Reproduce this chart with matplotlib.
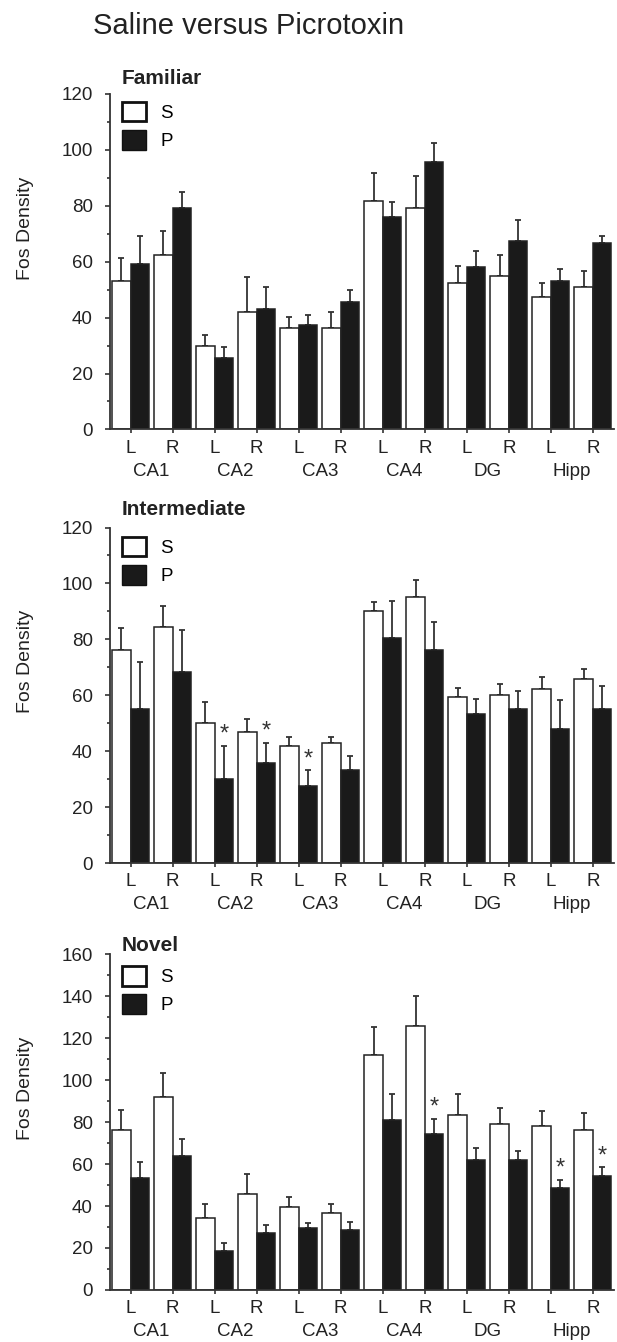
import matplotlib.pyplot as plt
import numpy as np
from matplotlib.patches import Patch

plt.rcParams['font.family'] = ['Liberation Sans', 'DejaVu Sans']

regions = ['CA1', 'CA2', 'CA3', 'CA4', 'DG', 'Hipp']
sides = ['L', 'R'] * 6

# Familiar
fam_s = [53.2, 62.5, 30.0, 41.9, 36.2, 36.2, 81.8, 79.2, 52.4, 55.0, 47.5, 51.1]
fam_s_err = [8.0, 8.6, 3.8, 12.5, 3.9, 5.7, 9.9, 11.3, 6.2, 7.4, 4.9, 5.7]
fam_p = [59.2, 79.2, 25.5, 43.1, 37.4, 45.5, 76.1, 95.5, 58.0, 67.5, 53.0, 66.7]
fam_p_err = [10.1, 5.6, 3.9, 8.0, 3.7, 4.5, 5.1, 6.8, 5.7, 7.4, 4.4, 2.6]

# Intermediate
int_s = [76.3, 84.5, 50.1, 46.8, 41.9, 43.1, 90.1, 95.1, 59.4, 60.0, 62.4, 65.8]
int_s_err = [7.6, 7.6, 7.4, 4.7, 3.1, 1.9, 3.2, 6.3, 3.2, 4.0, 4.0, 3.7]
int_p = [55.1, 68.3, 30.0, 35.7, 27.6, 33.3, 80.5, 76.3, 53.3, 55.2, 47.9, 55.2]
int_p_err = [16.8, 15.0, 11.9, 7.4, 5.5, 5.0, 13.4, 10.0, 5.5, 6.2, 10.5, 8.0]
int_stars = [2, 3, 4]

# Novel
nov_s = [76.1, 91.8, 34.2, 45.8, 39.5, 36.9, 111.9, 126.1, 83.6, 79.3, 78.3, 76.1]
nov_s_err = [9.9, 11.7, 6.7, 9.4, 4.8, 4.0, 13.4, 14.0, 10.0, 7.5, 6.9, 8.3]
nov_p = [53.3, 64.1, 18.6, 27.1, 29.5, 28.7, 81.2, 74.3, 61.8, 61.8, 48.6, 54.4]
nov_p_err = [7.5, 7.9, 4.0, 3.9, 2.3, 3.9, 12.4, 7.4, 5.9, 4.3, 3.9, 4.2]
nov_stars = [7, 10, 11]

panels = [
    ('Familiar', fam_s, fam_s_err, fam_p, fam_p_err, [], 120, 0.045, 0.977),
    ('Intermediate', int_s, int_s_err, int_p, int_p_err, int_stars, 120, 0.054, 0.973),
    ('Novel', nov_s, nov_s_err, nov_p, nov_p_err, nov_stars, 160, 0.026, 0.965),
]
bottoms = [0.680, 0.3569, 0.0388]

fig = plt.figure(figsize=(6.17, 13.42), dpi=100)
fig.text(93/617, 1 - 26/1342, 'Saline versus Picrotoxin', fontsize=21, va='center', ha='left', color='#222222')

x = np.arange(12)
w = 0.44
dark = '#1a1a1a'
for (name, s, se, p, pe, stars, ymax, ty, ly), b in zip(panels, bottoms):
    ax = fig.add_axes([110/617, b, 504/617, 0.2500])
    ax.bar(x - w/2, s, w, color='white', edgecolor='#222222', linewidth=1.1, zorder=2)
    ax.bar(x + w/2, p, w, color=dark, edgecolor='#222222', linewidth=1.1, zorder=2)
    ax.errorbar(x - w/2, s, yerr=[np.zeros(12), se], fmt='none', ecolor='#333333',
                elinewidth=1.3, capsize=2.5, capthick=1.3, zorder=1)
    ax.errorbar(x + w/2, p, yerr=[np.zeros(12), pe], fmt='none', ecolor='#333333',
                elinewidth=1.3, capsize=2.5, capthick=1.3, zorder=1)
    for i in stars:
        ax.annotate('*', xy=(i + w/2, p[i] + pe[i]), xytext=(0, 0), textcoords='offset points',
                    ha='center', va='bottom', fontsize=17, color='#333333')
    ax.set_xlim(-0.488, 11.5)
    ax.set_ylim(0, ymax)
    ax.set_yticks(np.arange(0, ymax + 1, 20))
    ax.set_yticks(np.arange(10, ymax, 20), minor=True)
    ax.set_xticks(x, sides)
    ax.tick_params(axis='y', which='major', length=3.5, width=1.1, pad=9, labelsize=13.5, colors='#222222')
    ax.tick_params(axis='y', which='minor', length=2.5, width=1.1, colors='#222222')
    ax.tick_params(axis='x', length=3, width=1.1, pad=4.5, labelsize=13.5, colors='#222222')
    for sp in ['top', 'right']:
        ax.spines[sp].set_visible(False)
    for sp in ['left', 'bottom']:
        ax.spines[sp].set_linewidth(1.3)
        ax.spines[sp].set_color('#333333')
    for k, r in enumerate(regions):
        ax.annotate(r, xy=(2*k + 0.5, 0), xycoords=('data', 'axes fraction'), xytext=(0, -30),
                    textcoords='offset points', ha='center', va='center', fontsize=13.5, color='#222222')
    ax.set_ylabel('Fos Density', fontsize=14, color='#222222')
    ax.yaxis.set_label_coords(-0.15, 0.6)
    ax.text(0.024, 1 + ty, name, transform=ax.transAxes, fontsize=15, fontweight='bold',
            ha='left', va='center', color='#222222')
    handles = [Patch(facecolor='white', edgecolor='#111111', linewidth=2),
               Patch(facecolor=dark, edgecolor='#111111', linewidth=1)]
    ax.legend(handles, ['S', 'P'], loc='upper left', bbox_to_anchor=(0.024, ly), frameon=False,
              fontsize=13.5, handlelength=1.25, handleheight=1.25, handletextpad=0.8,
              labelspacing=0.42, borderpad=0, borderaxespad=0)

plt.savefig('out.png', dpi=100)
